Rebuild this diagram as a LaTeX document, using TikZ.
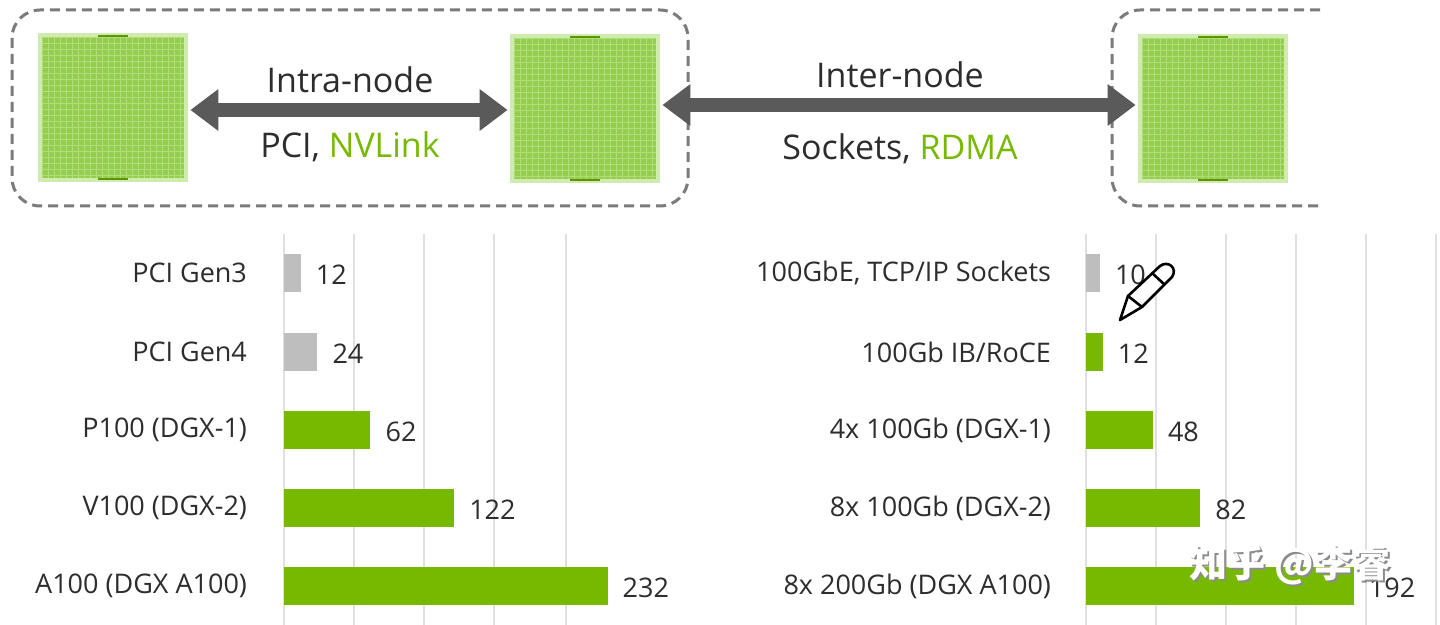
\documentclass[tikz,border=0pt]{standalone}
\usepackage{fontspec}
\setmainfont{Open Sans}
\newfontfamily\cjk{Noto Sans CJK SC}
\usetikzlibrary{arrows.meta}
\definecolor{nvg}{RGB}{118,185,0}
\definecolor{chipg}{RGB}{150,205,80}
\definecolor{gridc}{RGB}{175,222,120}
\definecolor{barg}{RGB}{190,190,190}
\definecolor{txt}{RGB}{45,45,45}
\definecolor{arr}{RGB}{90,90,90}
\begin{document}
\begin{tikzpicture}[x=0.5pt,y=-0.5pt,
  box/.style={draw=arr!80,line width=1.5pt,dash pattern=on 5pt off 3pt,rounded corners=14pt},
  lbl/.style={font=\fontsize{13.5}{16}\selectfont,text=txt},
  big/.style={font=\fontsize{17}{20}\selectfont,text=txt},
  dbl/.style={draw=arr,line width=7pt,{Triangle[length=14pt,width=20pt]}-{Triangle[length=14pt,width=20pt]},shorten <=1pt,shorten >=1pt},
  gridl/.style={draw=black!12,line width=1pt}]
\useasboundingbox (0,0) rectangle (1440,625);
\fill[white] (0,0) rectangle (1440,625);
% dashed boxes
\draw[box] (12,10) rectangle (688,206);
\draw[box] (1320,10) -- (1112,10) -- (1112,206) -- (1320,206);
% chips
\foreach \n/\x/\y in {c1/38/33,c2/510/34,c3/1138/34}{
  \fill[gridc!60] (\x,\y) rectangle ++(150,149);
  \fill[chipg] (\x+4,\y+4) rectangle ++(142,141);
  \foreach \i in {0,6,...,138}{
    \draw[gridc,line width=0.4pt] (\x+4+\i,\y+4) -- ++(0,141);
    \draw[gridc,line width=0.4pt] (\x+4,\y+4+\i) -- ++(142,0);}
  \draw[nvg!80!black,line width=1pt] (\x+60,\y+3) -- ++(30,0) (\x+60,\y+146) -- ++(30,0);
  \node[minimum width=75pt,minimum height=74.5pt,inner sep=0] (\n) at (\x+75,\y+74.5) {};
}
\draw[dbl] (c1.east |- 0,110) -- (c2.west |- 0,110);
\draw[dbl] (c2.east |- 0,105) -- (c3.west |- 0,105);
\node[big] (in) at (350,80) {Intra-node};
\node[big] (pn) at (350,147) {PCI, {\color{nvg}NVLink}};
\node[big] (on) at (900,75) {Inter-node};
\node[big] (sr) at (900,149) {Sockets, {\color{nvg}RDMA}};
% grids
\foreach \g in {284,354,424,494,566}{\draw[gridl] (\g,234) -- (\g,625);}
\foreach \g in {1086,1156,1226,1296,1366,1436}{\draw[gridl] (\g,234) -- (\g,625);}
% left chart
\foreach \y/\v/\c/\t [count=\k] in {273/12/barg/PCI Gen3,352/24/barg/PCI Gen4,430/62/nvg/P100 (DGX-1),508/122/nvg/V100 (DGX-2),586/232/nvg/A100 (DGX A100)}{
  \fill[\c] (284,\y-19) rectangle (284+1.395*\v,\y+19);
  \node[lbl,anchor=east] (la\k) at (254,\y) {\t};
  \node[lbl,anchor=west] (va\k) at (284+1.395*\v+8,\y+2) {\v};
}
% right chart
\foreach \y/\v/\c/\t [count=\k] in {273/10/barg/{100GbE, TCP/IP Sockets},352/12/nvg/{100Gb IB/RoCE},430/48/nvg/4x 100Gb (DGX-1),508/82/nvg/8x 100Gb (DGX-2),586/192/nvg/8x 200Gb (DGX A100)}{
  \fill[\c] (1086,\y-19) rectangle (1086+1.395*\v,\y+19);
  \node[lbl,anchor=east] (lb\k) at (1058,\y) {\t};
  \node[lbl,anchor=west] (vb\k) at (1086+1.395*\v+8,\y+2) {\v};
}
% pencil cursor
\draw[line width=1.3pt,fill=white,line join=round] (1120,320) -- (1128,296) -- (1160,266) .. controls (1168,260) and (1178,268) .. (1172,277) -- (1142,307) -- cycle;
\draw[line width=1.3pt] (1128,296) -- (1142,307) (1152,273) -- (1165,285);
% watermark
\node[font=\cjk\bfseries\fontsize{19}{22}\selectfont,text=black!45] (wm0) at (1292,567) {知乎 @李睿};
\node[font=\cjk\bfseries\fontsize{19}{22}\selectfont,text=white] (wm) at (1290,565) {知乎 @李睿};
\end{tikzpicture}
\end{document}
